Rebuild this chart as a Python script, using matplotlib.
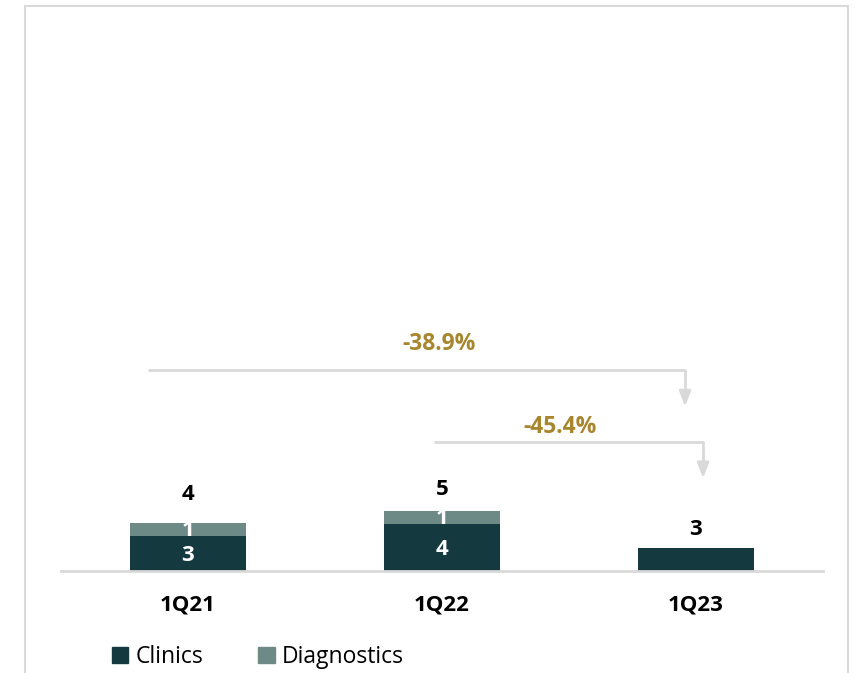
import matplotlib.pyplot as plt
from matplotlib.patches import Patch, Rectangle

plt.rcParams['font.family'] = ['Open Sans', 'DejaVu Sans']

# data
quarters = ['1Q21', '1Q22', '1Q23']
clinics = [2.98, 4.0, 1.96]
diagnostics = [1.1, 1.1, 0.0]
clinics_labels = ['3', '4', '']
diag_labels = ['1', '1', '']
total_labels = ['4', '5', '3']
changes = ['-38.9%', '-45.4%']

dark = '#143A40'
light = '#6E8A87'
gold = '#A8862E'
grey = '#D9D9D9'

fig = plt.figure(figsize=(8.59, 6.73), dpi=100)
ax = fig.add_axes([61/859, 102/673, 762/859, 541/673])

x = range(len(quarters))
w = 0.453
ax.bar(x, clinics, width=w, color=dark, zorder=2)
ax.bar(x, diagnostics, width=w, bottom=clinics, color=light, zorder=2)

ax.set_xlim(-0.5, 2.5)
ax.set_ylim(0, 46.04)

# numbers in the bars
for i in x:
    if clinics_labels[i]:
        ax.text(i, clinics[i] / 2 - 0.2, clinics_labels[i], ha='center', va='center',
                color='white', fontsize=16, fontweight='bold', zorder=3)
    if diag_labels[i]:
        ax.text(i, clinics[i] + diagnostics[i] / 2 - 0.1, diag_labels[i], ha='center', va='center',
                color='white', fontsize=16, fontweight='bold', zorder=3)

# totals above the bars (pad in px)
total_pad = [29, 22, 18]
for i in x:
    top = clinics[i] + diagnostics[i]
    ax.annotate(total_labels[i], (i, top), xytext=(0, total_pad[i] * 0.72), textcoords='offset points',
                ha='center', va='center', fontsize=16, fontweight='bold', color='black')

# change arrows
arrows = [(-0.157, 1.957, 17.1, 14.0), (0.968, 2.028, 11.0, 7.9)]
label_pos = [(0.99, 19.3), (1.465, 12.25)]
for (x0, x1, y0, y1), txt, (tx, ty) in zip(arrows, changes, label_pos):
    ax.plot([x0, x1, x1], [y0, y0, y1 + 1.2], color=grey, lw=2, solid_capstyle='butt', zorder=1)
    ax.annotate('', xy=(x1, y1), xytext=(x1, y1 + 1.3),
                arrowprops=dict(arrowstyle='-|>,head_length=0.9,head_width=0.35', color=grey, lw=2,
                                shrinkA=0, shrinkB=0))
    ax.text(tx, ty, txt, ha='center', va='center', color=gold, fontsize=16.5, fontweight='bold')

for s in ['top', 'right', 'left']:
    ax.spines[s].set_visible(False)
ax.spines['bottom'].set_color(grey)
ax.spines['bottom'].set_linewidth(2)
ax.set_yticks([])
ax.set_xticks(list(x))
ax.set_xticklabels(quarters, fontsize=16, fontweight='bold')
ax.tick_params(axis='x', length=0, pad=17)

handles = [Patch(color=dark, label='Clinics'), Patch(color=light, label='Diagnostics')]
fig.legend(handles=handles, loc='center left', bbox_to_anchor=(112/859, 1 - 657/673), ncol=2,
           frameon=False, fontsize=16.5, handlelength=0.72, handleheight=0.72, handletextpad=0.3,
           columnspacing=2.4, borderpad=0, borderaxespad=0)

# light frame around the panel
fig.patches.append(Rectangle((25/859, -0.05), 823/859, (667/673) + 0.05, transform=fig.transFigure,
                             fill=False, edgecolor=grey, lw=1.5))

fig.savefig('out.png', dpi=100)
